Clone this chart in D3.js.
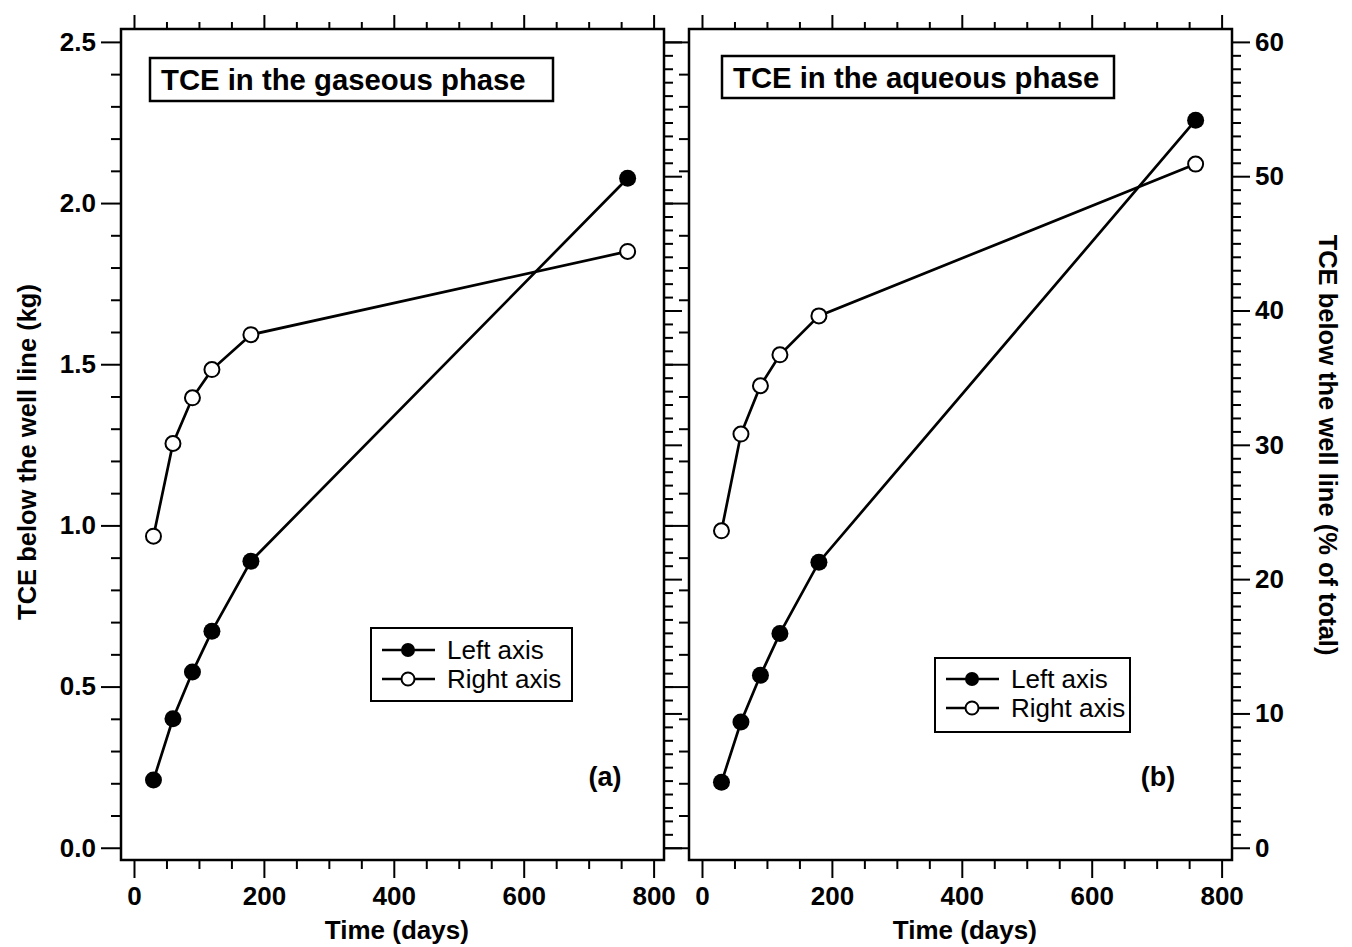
<!DOCTYPE html>
<html>
<head>
<meta charset="utf-8">
<script src="https://cdn.jsdelivr.net/npm/d3@7"></script>
<style>
body { margin: 0; background: #fff; }
text { font-family: "Liberation Sans", Arial, Helvetica, sans-serif; fill: #000; }
</style>
</head>
<body>
<svg id="chart" width="1352" height="947"></svg>
<script>
// values
var days = [30, 60, 90, 120, 180, 760];
var gasKg = [0.21, 0.40, 0.545, 0.672, 0.889, 2.077];
var gasPct = [23.2, 30.1, 33.5, 35.6, 38.2, 44.4];
var aqKg = [0.203, 0.39, 0.535, 0.665, 0.886, 2.257];
var aqPct = [23.6, 30.8, 34.4, 36.7, 39.6, 50.9];

var xTicks = [0, 200, 400, 600, 800];
var xMinor = [50, 100, 150, 250, 300, 350, 450, 500, 550, 650, 700, 750];
var kgTicks = [0, 0.5, 1.0, 1.5, 2.0, 2.5];
var pctTicks = [0, 10, 20, 30, 40, 50, 60];
var legendLabels = ["Left axis", "Right axis"];

var svg = d3.select("#chart");
var plotTop = 29, plotBottom = 860;

// minor ticks
var kgMinor = d3.range(0, 26).filter(function (i) { return i % 5 != 0; }).map(function (i) { return i / 10; });
var pctMinor = d3.range(0, 61).filter(function (i) { return i % 10 != 0; });

// left y (kg) and right y (% of total): 60 % sits at 2.5 kg
var y = d3.scaleLinear().domain([-0.038, 2.54]).range([plotBottom, plotTop]);
var yPct = d3.scaleLinear().domain(y.domain().map(function (v) { return v * 24; })).range([plotBottom, plotTop]);

function clean(g) {
  g.select(".domain").remove();
  g.attr("font-family", null).attr("font-size", null);
  g.selectAll("line").attr("stroke", "#000").attr("stroke-width", 2);
  g.selectAll("text").attr("font-size", 26).attr("font-weight", "bold");
}

function drawPanel(p) {
  var x = d3.scaleLinear().domain([-20, 816]).range([p.left, p.right]);
  var g = svg.append("g");

  // bottom axis
  g.append("g").attr("transform", "translate(0," + plotBottom + ")")
    .call(d3.axisBottom(x).tickValues(xTicks).tickSize(18).tickSizeOuter(0).tickPadding(9))
    .call(clean);
  g.append("g").attr("transform", "translate(0," + plotBottom + ")")
    .call(d3.axisBottom(x).tickValues(xMinor).tickSize(9).tickFormat(""))
    .call(clean);
  // top axis
  g.append("g").attr("transform", "translate(0," + plotTop + ")")
    .call(d3.axisTop(x).tickValues(xTicks).tickSize(14).tickFormat(""))
    .call(clean);
  g.append("g").attr("transform", "translate(0," + plotTop + ")")
    .call(d3.axisTop(x).tickValues(xMinor).tickSize(7).tickFormat(""))
    .call(clean);

  // left axis (kg)
  var la = d3.axisLeft(y).tickValues(kgTicks).tickSize(p.leftMajor).tickPadding(5);
  la.tickFormat(p.leftLabels ? d3.format(".1f") : "");
  g.append("g").attr("transform", "translate(" + p.left + ",0)").call(la).call(clean);
  g.append("g").attr("transform", "translate(" + p.left + ",0)")
    .call(d3.axisLeft(y).tickValues(kgMinor).tickSize(10).tickFormat(""))
    .call(clean);

  // right axis (%)
  var ra = d3.axisRight(yPct).tickValues(pctTicks).tickSize(18).tickPadding(5);
  ra.tickFormat(p.rightLabels ? d3.format("d") : "");
  g.append("g").attr("transform", "translate(" + p.right + ",0)").call(ra).call(clean);
  g.append("g").attr("transform", "translate(" + p.right + ",0)")
    .call(d3.axisRight(yPct).tickValues(pctMinor).tickSize(9).tickFormat(""))
    .call(clean);

  // frame
  g.append("rect")
    .attr("x", p.left).attr("y", plotTop)
    .attr("width", p.right - p.left).attr("height", plotBottom - plotTop)
    .attr("fill", "none").attr("stroke", "#000").attr("stroke-width", 2.5);

  g.append("text")
    .attr("x", x(400) + 3).attr("y", 939)
    .attr("text-anchor", "middle").attr("font-size", 26).attr("font-weight", "bold")
    .text("Time (days)");

  // series
  var kgPts = days.map(function (d, i) { return [x(d), y(p.kg[i])]; });
  var pctPts = days.map(function (d, i) { return [x(d), yPct(p.pct[i])]; });
  var line = d3.line();
  g.append("path").attr("d", line(pctPts)).attr("fill", "none").attr("stroke", "#000").attr("stroke-width", 2.7);
  g.append("path").attr("d", line(kgPts)).attr("fill", "none").attr("stroke", "#000").attr("stroke-width", 2.7);
  g.selectAll(".open").data(pctPts).enter().append("circle")
    .attr("cx", function (d) { return d[0]; }).attr("cy", function (d) { return d[1]; })
    .attr("r", 7.5).attr("fill", "#fff").attr("stroke", "#000").attr("stroke-width", 2);
  g.selectAll(".filled").data(kgPts).enter().append("circle")
    .attr("cx", function (d) { return d[0]; }).attr("cy", function (d) { return d[1]; })
    .attr("r", 8.5).attr("fill", "#000");

  // title box
  g.append("rect").attr("x", p.title.x).attr("y", p.title.y)
    .attr("width", p.title.w).attr("height", p.title.h)
    .attr("fill", "#fff").attr("stroke", "#000").attr("stroke-width", 2.5);
  g.append("text").attr("x", p.title.x + 11).attr("y", p.title.y + 32)
    .attr("font-size", 29.3).attr("font-weight", "bold").text(p.title.text);

  // panel letter
  g.append("text").attr("x", p.letter[0]).attr("y", p.letter[1])
    .attr("text-anchor", "middle").attr("font-size", 27).attr("font-weight", "bold")
    .text(p.letter[2]);

  // legend
  var L = p.legend;
  g.append("rect").attr("x", L.x).attr("y", L.y).attr("width", L.w).attr("height", L.h)
    .attr("fill", "#fff").attr("stroke", "#000").attr("stroke-width", 2);
  legendLabels.forEach(function (lab, i) {
    var ry = L.rows[i];
    g.append("line").attr("x1", L.x + 11).attr("x2", L.x + 64).attr("y1", ry).attr("y2", ry)
      .attr("stroke", "#000").attr("stroke-width", 2.5);
    var c = g.append("circle").attr("cx", L.x + 37).attr("cy", ry);
    if (i == 0) c.attr("r", 7).attr("fill", "#000");
    else c.attr("r", 6.5).attr("fill", "#fff").attr("stroke", "#000").attr("stroke-width", 2);
    g.append("text").attr("x", L.x + 76).attr("y", ry + 9)
      .attr("font-size", 26).text(lab);
  });
}

drawPanel({
  left: 121, right: 664, leftMajor: 20, leftLabels: true, rightLabels: false,
  kg: gasKg, pct: gasPct,
  title: {x: 150, y: 58, w: 403, h: 43, text: "TCE in the gaseous phase"},
  letter: [605, 786, "(a)"],
  legend: {x: 371, y: 628, w: 201, h: 73, rows: [650, 679]}
});
drawPanel({
  left: 689, right: 1232, leftMajor: 25, leftLabels: false, rightLabels: true,
  kg: aqKg, pct: aqPct,
  title: {x: 722, y: 56, w: 392, h: 42, text: "TCE in the aqueous phase"},
  letter: [1158, 786, "(b)"],
  legend: {x: 935, y: 658, w: 195, h: 74, rows: [679, 708]}
});

// axis titles
svg.append("text")
  .attr("transform", "translate(27,452) rotate(-90)")
  .attr("text-anchor", "middle").attr("dominant-baseline", "central")
  .attr("font-size", 25.5).attr("font-weight", "bold")
  .text("TCE below the well line (kg)");
svg.append("text")
  .attr("transform", "translate(1328,445) rotate(90)")
  .attr("text-anchor", "middle").attr("dominant-baseline", "central")
  .attr("font-size", 25.5).attr("font-weight", "bold")
  .text("TCE below the well line (% of total)");
</script>
</body>
</html>
